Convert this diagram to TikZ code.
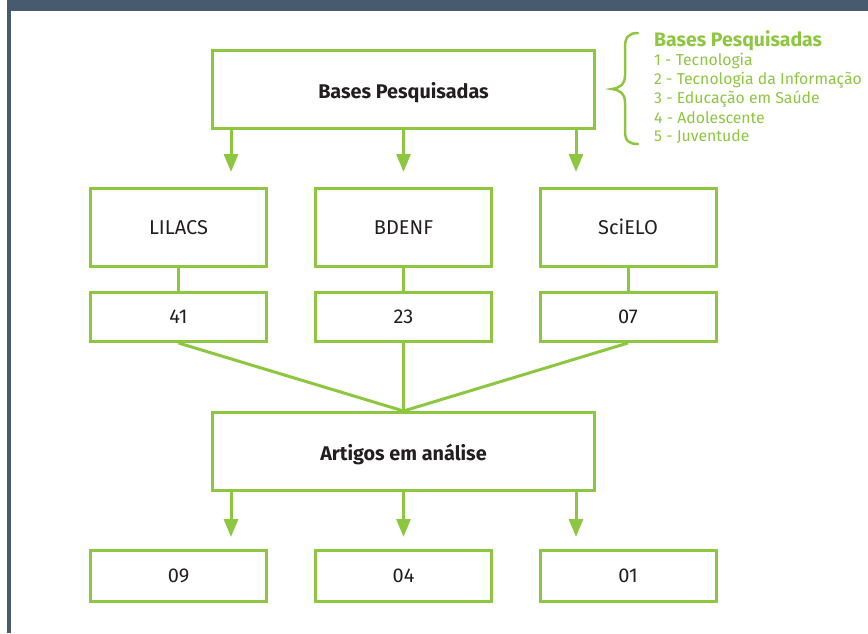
\documentclass[tikz,border=0pt]{standalone}
\usepackage{fontspec}
\setmainfont{Fira Sans}
\usetikzlibrary{arrows.meta}
\definecolor{gr}{HTML}{8DC63F}
\definecolor{frame}{HTML}{475A6E}
\definecolor{txt}{HTML}{231F20}
\tikzset{
  box/.style={draw=gr, line width=3pt, fill=white, text=txt, inner sep=0pt, text height=13.5pt, text depth=0pt, font=\fontsize{20}{22}\selectfont},
  bigbox/.style={box, minimum width=382pt, minimum height=78pt, text height=18.5pt, font=\fontsize{19.8}{22}\selectfont\bfseries},
  midbox/.style={box, minimum width=176pt, minimum height=78pt},
  numbox/.style={box, minimum width=176pt, minimum height=49pt},
  conn/.style={draw=gr, line width=3pt},
  arr/.style={draw=gr, line width=3pt, -{Triangle[width=14pt,length=18pt]}, gr},
  leg/.style={anchor=west, inner sep=0pt, text=gr, font=\fontsize{15.8}{18}\selectfont},
}
\begin{document}
\begin{tikzpicture}[x=1pt,y=-1pt]
\useasboundingbox (0,0) rectangle (868,633);
\fill[frame] (7,0) rectangle (868,11);
\fill[frame] (7,0) rectangle (11,633);
% top
\node[bigbox] (top) at (403.5,89.5) {Bases Pesquisadas};
\node[midbox] (lil) at (178.5,227.5) {LILACS};
\node[midbox] (bde) at (403.5,227.5) {BDENF};
\node[midbox] (sci) at (628,227.5) {SciELO};
\node[numbox] (n1) at (178.5,317) {41};
\node[numbox] (n2) at (403.5,317) {23};
\node[numbox] (n3) at (628,317) {07};
\node[bigbox] (art) at (403.5,451.5) {Artigos em análise};
\node[numbox, minimum height=51pt] (b1) at (178.5,576) {09};
\node[numbox, minimum height=51pt] (b2) at (403.5,576) {04};
\node[numbox, minimum height=51pt] (b3) at (628,576) {01};
% arrows from top
\draw[arr] ([xshift=20pt]top.south west) -- ++(0,42);
\draw[arr] (top.south) -- ++(0,42);
\draw[arr] ([xshift=-20pt]top.south east) -- ++(0,42);
% connectors
\draw[conn] (lil) -- (n1);
\draw[conn] (bde) -- (n2);
\draw[conn] (sci) -- (n3);
\draw[conn] (n1.south) -- (art.north);
\draw[conn] (n2.south) -- (art.north);
\draw[conn] (n3.south) -- (art.north);
% arrows from artigos
\draw[arr] ([xshift=20pt]art.south west) -- ++(0,45);
\draw[arr] (art.south) -- ++(0,45);
\draw[arr] ([xshift=-20pt]art.south east) -- ++(0,45);
% legend
\draw[gr, line width=2.5pt, line cap=round] (638,33) .. controls (629,33) and (625,37) .. (625,47) -- (625,76) .. controls (625,84) and (620,88) .. (612,89) .. controls (620,90) and (625,94) .. (625,102) -- (625,131) .. controls (625,141) and (629,144) .. (638,144);
\node[leg, font=\fontsize{19.5}{22}\selectfont\bfseries] (l0) at (654,41) {Bases Pesquisadas};
\node[leg] (l1) at (654,61) {1 - Tecnologia};
\node[leg] (l2) at (654,80) {2 - Tecnologia da Informação};
\node[leg] (l3) at (654,99) {3 - Educação em Saúde};
\node[leg] (l4) at (654,118) {4 - Adolescente};
\node[leg] (l5) at (654,137) {5 - Juventude};
\end{tikzpicture}
\end{document}
